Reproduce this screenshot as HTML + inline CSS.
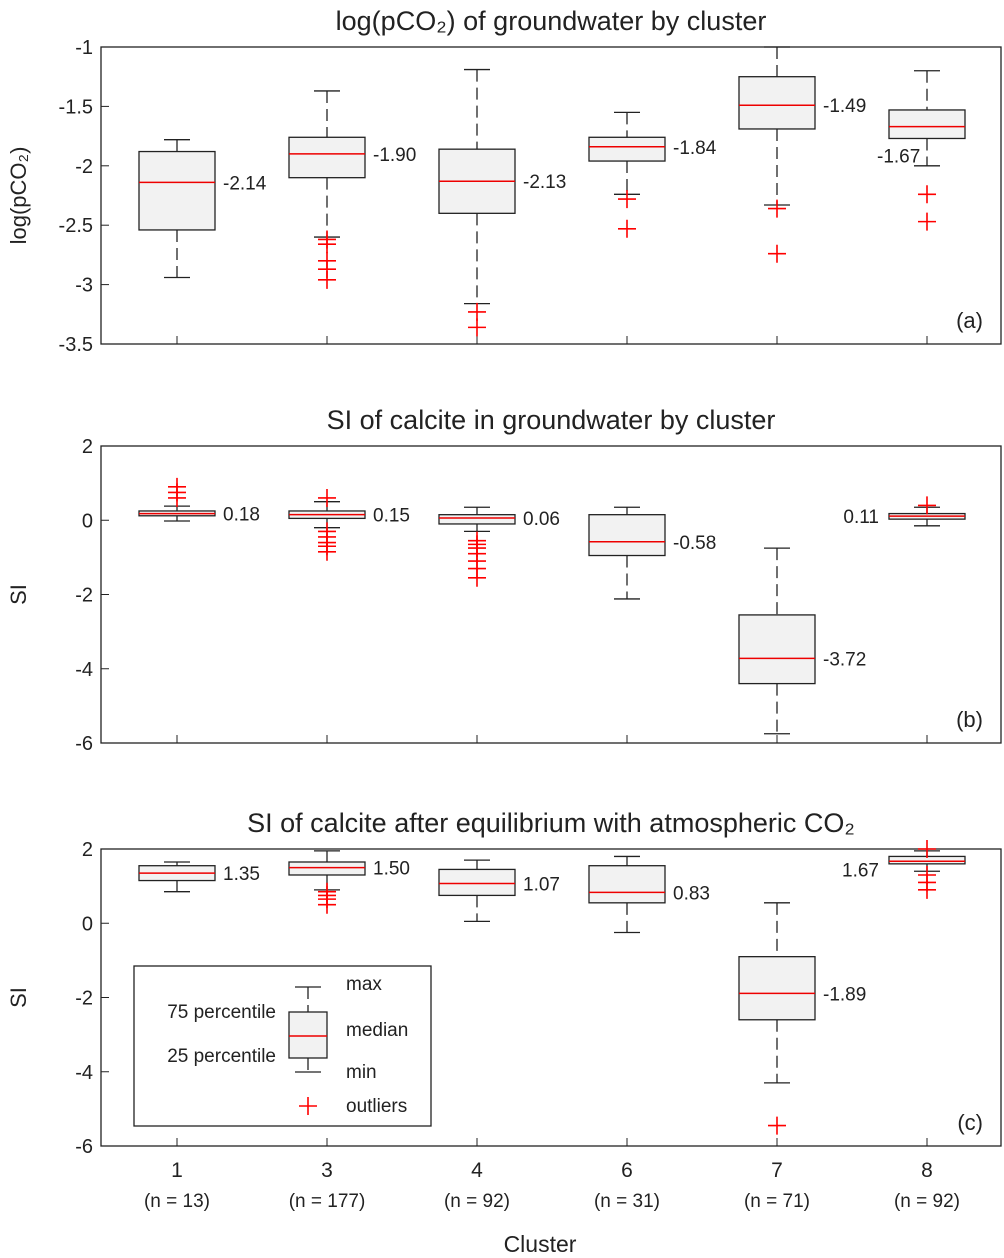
<!DOCTYPE html>
<html><head><meta charset="utf-8"><style>
body{margin:0;background:#fff}
svg{display:block;font-family:"Liberation Sans","DejaVu Sans",sans-serif}
</style></head><body>
<svg id="chart" width="1004" height="1258" viewBox="0 0 1004 1258"></svg>
<script>
const clusters=["1","3","4","6","7","8"];
const counts=["(n = 13)","(n = 177)","(n = 92)","(n = 31)","(n = 71)","(n = 92)"];
// panel a: [min,q1,med,q3,max]
const statsA=[[-2.94,-2.54,-2.14,-1.88,-1.78],[-2.60,-2.10,-1.90,-1.76,-1.37],[-3.16,-2.40,-2.13,-1.86,-1.19],[-2.24,-1.96,-1.84,-1.76,-1.55],[-2.33,-1.69,-1.49,-1.25,-1.0],[-2.00,-1.77,-1.67,-1.53,-1.20]];
const outA=[[],[-2.62,-2.66,-2.80,-2.87,-2.96],[-3.23,-3.36],[-2.28,-2.53],[-2.36,-2.74],[-2.24,-2.47]];
const labA=["-2.14","-1.90","-2.13","-1.84","-1.49","-1.67"];
const statsB=[[-0.02,0.12,0.18,0.25,0.38],[-0.2,0.05,0.15,0.25,0.5],[-0.3,-0.1,0.06,0.15,0.35],[-2.12,-0.95,-0.58,0.15,0.35],[-5.75,-4.4,-3.72,-2.55,-0.75],[-0.15,0.03,0.11,0.18,0.35]];
const outB=[[0.6,0.75,0.9],[0.6,-0.3,-0.45,-0.6,-0.7,-0.85],[-0.55,-0.65,-0.75,-0.9,-1.1,-1.3,-1.55],[],[],[0.4]];
const labB=["0.18","0.15","0.06","-0.58","-3.72","0.11"];
const statsC=[[0.85,1.15,1.35,1.55,1.65],[0.9,1.3,1.50,1.65,1.95],[0.05,0.75,1.07,1.45,1.7],[-0.25,0.55,0.83,1.55,1.8],[-4.3,-2.6,-1.89,-0.9,0.55],[1.4,1.6,1.67,1.8,1.95]];
const outC=[[],[0.85,0.75,0.65,0.5],[],[],[-5.45],[2.0,1.3,1.1,0.9]];
const labC=["1.35","1.50","1.07","0.83","-1.89","1.67"];
const ticksA=[-1,-1.5,-2,-2.5,-3,-3.5], ticksBC=[2,0,-2,-4,-6];

const svg=document.getElementById('chart');const NS="http://www.w3.org/2000/svg";
function el(t,a,p){const e=document.createElementNS(NS,t);for(const k in a)e.setAttribute(k,a[k]);(p||svg).appendChild(e);return e;}
const X0=101,X1=1001;
const xs=i=>177+150*i;
function panel(key,top,bot,ymax,ymin,stats,outs,labs,ticks,title,ylab,tag,labMode){
  const g=el('g',{});
  
  
  const y=v=>top+(ymax-v)/(ymax-ymin)*(bot-top);
  const ax=el('rect',{x:X0,y:top,width:X1-X0,height:bot-top,fill:'none',stroke:'#222','stroke-width':1.3},g);
  
  ticks.forEach(t=>{el('line',{x1:X0,x2:X0+8,y1:y(t),y2:y(t),stroke:'#222'},g);
    const tx=el('text',{x:X0-8,y:y(t)+7,'text-anchor':'end','font-size':20,fill:'#222'},g);tx.textContent=String(t);
    });
  clusters.forEach((c,i)=>{el('line',{x1:xs(i),x2:xs(i),y1:bot,y2:bot-8,stroke:'#222'},g);});
  const tt=el('text',{x:551,y:top-17,'text-anchor':'middle','font-size':27,fill:'#222'},g);tt.textContent=title;
  
  const yl=el('text',{x:0,y:0,'text-anchor':'middle','font-size':22,fill:'#222',transform:`translate(26,${(top+bot)/2}) rotate(-90)`},g);yl.textContent=ylab;
  
  const tg=el('text',{x:983,y:bot-16,'text-anchor':'end','font-size':22,fill:'#222'},g);tg.textContent=tag;
  
  stats.forEach((s,i)=>{const cx=xs(i);
    const bg=el('g',{},g);
    
    
    el('line',{x1:cx,x2:cx,y1:y(s[4]),y2:y(s[3]),stroke:'#222','stroke-width':1.3,'stroke-dasharray':'12,6'},bg);
    el('line',{x1:cx,x2:cx,y1:y(s[1]),y2:y(s[0]),stroke:'#222','stroke-width':1.3,'stroke-dasharray':'12,6'},bg);
    el('line',{x1:cx-13,x2:cx+13,y1:y(s[4]),y2:y(s[4]),stroke:'#222','stroke-width':1.3},bg);
    el('line',{x1:cx-13,x2:cx+13,y1:y(s[0]),y2:y(s[0]),stroke:'#222','stroke-width':1.3},bg);
    el('rect',{x:cx-38,y:y(s[3]),width:76,height:y(s[1])-y(s[3]),fill:'#f2f2f2',stroke:'#222','stroke-width':1.3},bg);
    el('line',{x1:cx-38,x2:cx+38,y1:y(s[2]),y2:y(s[2]),stroke:'#e00','stroke-width':1.5},bg);
    outs[i].forEach(o=>{const p=el('path',{d:`M${cx-9} ${y(o)}h18M${cx} ${y(o)-9}v18`,stroke:'#f00','stroke-width':1.6},bg);
      });
    let lx=cx+46, ly=y(s[2])+7, anc='start';
    if(i===5){
      if(labMode==='below'){lx=cx-50;ly=y(s[2])+36;}
      else {lx=cx-48;anc='end';ly=y(s[2])+(labMode==='leftlow'?15:7);}
    }
    const lt=el('text',{x:lx,y:ly,'text-anchor':anc,'font-size':19,fill:'#222'},bg);lt.textContent=labs[i];
    
  });
}
panel('a',47,344,-1,-3.5,statsA,outA,labA,ticksA,'log(pCO₂) of groundwater by cluster','log(pCO₂)','(a)','below');
panel('b',446,743,2,-6,statsB,outB,labB,ticksBC,'SI of calcite in groundwater by cluster','SI','(b)','left');
panel('c',849,1146,2,-6,statsC,outC,labC,ticksBC,'SI of calcite after equilibrium with atmospheric CO₂','SI','(c)','leftlow');
clusters.forEach((c,i)=>{const t=el('text',{x:xs(i),y:1177,'text-anchor':'middle','font-size':21,fill:'#222'});t.textContent=c;
  
  const n=el('text',{x:xs(i),y:1207,'text-anchor':'middle','font-size':19,fill:'#222'});n.textContent=counts[i];
  });
const xt=el('text',{x:540,y:1252,'text-anchor':'middle','font-size':23,fill:'#222'});xt.textContent='Cluster';

// legend
const lg=el('g',{});


el('rect',{x:134,y:966,width:297,height:160,fill:'#fff',stroke:'#222','stroke-width':1.3},lg);
el('line',{x1:308,x2:308,y1:987,y2:1012,stroke:'#222','stroke-width':1.3,'stroke-dasharray':'12,6'},lg);
el('line',{x1:308,x2:308,y1:1058,y2:1072,stroke:'#222','stroke-width':1.3,'stroke-dasharray':'12,6'},lg);
el('line',{x1:295,x2:321,y1:987,y2:987,stroke:'#222','stroke-width':1.3},lg);
el('line',{x1:295,x2:321,y1:1072,y2:1072,stroke:'#222','stroke-width':1.3},lg);
el('rect',{x:289,y:1012,width:38,height:46,fill:'#f2f2f2',stroke:'#222','stroke-width':1.3},lg);
el('line',{x1:289,x2:327,y1:1036,y2:1036,stroke:'#e00','stroke-width':1.5},lg);
el('path',{d:'M299 1106h18M308 1097v18',stroke:'#f00','stroke-width':1.6},lg);
[['max',346,990,'start'],['median',346,1036,'start'],['min',346,1078,'start'],['outliers',346,1112,'start'],['75 percentile',276,1018,'end'],['25 percentile',276,1062,'end']].forEach(a=>{
  const t=el('text',{x:a[1],y:a[2],'text-anchor':a[3],'font-size':19,fill:'#222'},lg);t.textContent=a[0];
  });
</script>
</body></html>
